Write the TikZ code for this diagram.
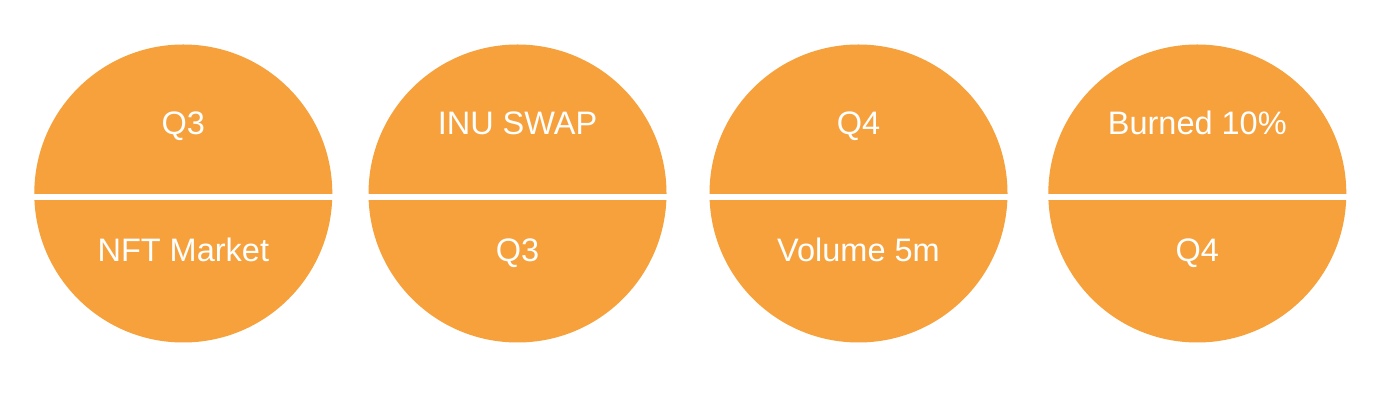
\documentclass[tikz,border=0pt]{standalone}
\usepackage{fontspec}
\setmainfont{Liberation Sans}
\definecolor{disc}{HTML}{F6A13C}
\tikzset{
  discnode/.style={circle, fill=disc, minimum size=298pt, inner sep=0pt, draw=none},
  stripe/.style={fill=white},
  lbl/.style={text=white, font=\fontsize{32.5}{33}\selectfont, anchor=base, inner sep=0pt}
}
\begin{document}
\begin{tikzpicture}[x=1pt,y=1pt]
\useasboundingbox[fill=white] (0,0) rectangle (1394,406);
% discs
\node[discnode] (d1) at (183.3,212.5) {};
\node[discnode] (d2) at (517.5,212.5) {};
\node[discnode] (d3) at (858.5,212.5) {};
\node[discnode] (d4) at (1197.3,212.5) {};
% white dividing stripes
\foreach \c in {d1,d2,d3,d4}{
  \fill[stripe] ([xshift=-2pt]\c.west |- 0,206) rectangle ([xshift=2pt]\c.east |- 0,212);
}
% labels
\node[lbl] (t1) at (183.3,271.5) {Q3};
\node[lbl] (b1) at (183.3,144) {NFT Market};
\node[lbl] (t2) at (517.5,271.5) {INU SWAP};
\node[lbl] (b2) at (517.5,144) {Q3};
\node[lbl] (t3) at (858.5,271.5) {Q4};
\node[lbl] (b3) at (858.5,144) {Volume 5m};
\node[lbl] (t4) at (1197.3,271.5) {Burned 10\%};
\node[lbl] (b4) at (1197.3,144) {Q4};
\end{tikzpicture}
\end{document}
